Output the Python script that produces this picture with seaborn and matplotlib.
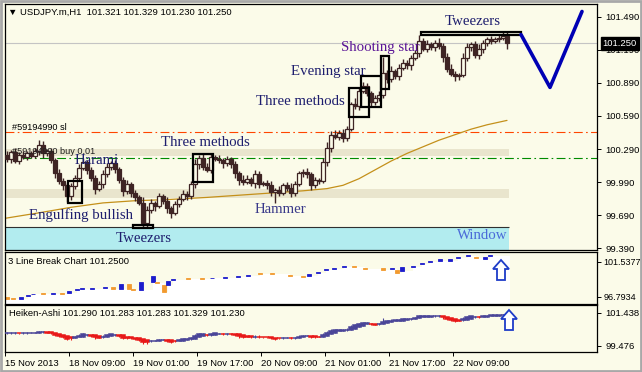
import matplotlib
matplotlib.use("Agg")
import matplotlib.pyplot as plt
import seaborn as sns
import numpy as np
from matplotlib.patches import Rectangle, Polygon

sns.set_theme(style="white")
plt.rcParams['font.family'] = ['Liberation Sans', 'DejaVu Sans']

W, H = 642, 372
BG = '#fbfbe9'
CANDLE = '#3e2424'
SERIF = ['Liberation Serif', 'DejaVu Serif']

# ---- H1 candles (USDJPY), opens follow the previous close ----
closes = [100.20, 100.26, 100.18, 100.24, 100.22, 100.25, 100.23, 100.27, 100.33, 100.25,
          100.27, 100.19, 100.07, 100.00, 99.96, 99.86, 99.95, 100.03, 100.12, 100.17,
          100.10, 100.03, 99.93, 99.97, 100.06, 100.13, 100.16, 100.11, 100.01, 99.91,
          99.97, 99.89, 99.85, 99.80, 99.62, 99.74, 99.80, 99.77, 99.86, 99.82,
          99.75, 99.71, 99.79, 99.84, 99.88, 99.86, 99.97, 100.15, 100.21, 100.13,
          100.10, 100.22, 100.20, 100.19, 100.16, 100.20, 100.15, 100.07, 100.01, 99.99,
          100.02, 99.98, 100.06, 99.97, 99.98, 99.96, 99.90, 99.92, 99.89, 99.96,
          99.94, 99.89, 99.97, 100.07, 100.08, 100.06, 99.96, 100.01, 100.00, 100.17,
          100.30, 100.42, 100.40, 100.44, 100.39, 100.47, 100.70, 100.68, 100.82, 100.86,
          100.80, 100.72, 100.75, 100.78, 100.98, 100.93, 101.00, 100.95, 101.03, 101.07,
          101.05, 101.12, 101.16, 101.27, 101.20, 101.24, 101.22, 101.25, 101.23, 101.13,
          101.02, 100.97, 100.95, 100.96, 101.12, 101.22, 101.24, 101.14, 101.20, 101.25,
          101.29, 101.27, 101.29, 101.30, 101.32, 101.25]
first_open = 100.24
# wick lengths in pips above / below the body
up_pips = [3, 2, 4, 2, 3, 2, 2, 3, 4, 3, 2, 3, 2, 4, 3, 2, 3, 2, 3, 4, 2, 3, 2, 3, 4, 3, 2, 3, 2, 3,
           4, 2, 3, 2, 5, 3, 4, 2, 3, 2, 3, 2, 3, 2, 4, 3, 3, 5, 3, 4, 3, 3, 2, 4, 2, 3, 2, 3, 2, 4,
           3, 2, 4, 3, 2, 3, 4, 2, 3, 2, 3, 4, 3, 2, 3, 4, 2, 3, 2, 4, 5, 3, 4, 2, 3, 3, 2, 5, 3, 4,
           3, 2, 3, 4, 15, 3, 4, 2, 3, 4, 3, 2, 3, 6, 3, 4, 2, 3, 5, 2, 3, 4, 3, 2, 4, 3, 2, 3, 4, 3,
           2, 3, 2, 3, 4, 3]
lo_pips = [3, 4, 2, 3, 2, 3, 2, 2, 3, 4, 2, 3, 4, 3, 4, 5, 3, 2, 3, 2, 4, 3, 5, 2, 3, 2, 3, 4, 3, 5,
           3, 4, 3, 2, 4, 4, 3, 4, 2, 3, 4, 5, 2, 3, 2, 3, 2, 3, 4, 3, 2, 3, 2, 3, 4, 2, 3, 4, 5, 3,
           2, 3, 4, 3, 2, 3, 4, 10, 3, 2, 3, 4, 3, 2, 3, 3, 4, 2, 3, 2, 3, 4, 2, 3, 4, 3, 2, 3, 4, 2,
           3, 4, 3, 2, 3, 4, 3, 2, 3, 2, 3, 4, 2, 3, 2, 3, 3, 4, 3, 5, 3, 2, 4, 3, 2, 3, 4, 2, 3, 4,
           2, 3, 2, 3, 2, 5]

# moving average (brown line)
ma_x = [-0.5, 8, 16, 24, 32, 40, 50, 58, 66, 74, 80, 84, 88, 92, 96, 100, 104, 108, 112, 116, 120, 125]
ma_y = [99.66, 99.71, 99.76, 99.80, 99.82, 99.83, 99.85, 99.87, 99.89, 99.91, 99.93, 99.96,
        100.02, 100.10, 100.18, 100.25, 100.31, 100.37, 100.42, 100.47, 100.51, 100.55]

sl_level = 100.445
buy_level = 100.21
bid = 101.25
bands = [(100.225, 100.29), (99.845, 99.93)]
window_top = 99.58

# pattern boxes: (bar from, bar to, price low, price high)
boxes = [(15.25, 18.75, 99.80, 100.00), (31.5, 36.5, 99.57, 99.60), (46.5, 51.5, 99.99, 100.245),
         (85.5, 90.5, 100.58, 100.845), (88.5, 93.5, 100.672, 100.954), (93.5, 95.5, 100.835, 101.135),
         (103.5, 128.5, 101.326, 101.354)]
labels = ["Engulfing bullish", "Tweezers", "Harami", "Three methods", "Hammer",
          "Three methods", "Evening star", "Shooting star", "Tweezers", "Window"]
label_x = [5.5, 27.25, 17.0, 38.5, 62.0, 62.25, 71.0, 83.5, 109.5, 125.0]
label_y = [99.69, 99.48, 100.19, 100.345, 99.74, 100.726, 100.99, 101.21, 101.45, 99.50]
label_col = ['#1e1e6e', '#1e1e6e', '#1e1e6e', '#1e1e6e', '#3a3a8a',
             '#1e1e6e', '#1e1e6e', '#5a1496', '#1e1e6e', '#4a6ad8']

# forecast drawing
v_x = [128.5, 135.75, 143.75]
v_y = [101.33, 100.85, 101.54]

# 3 Line Break bricks
lb_x = [0, 1.5, 3.5, 5.25, 6.5, 9, 11.5, 13.75, 15.5, 17.5, 18.75, 21.25, 24.5, 26.5, 28.5, 30.5,
        31.5, 33.5, 36.5, 37.5, 39.25, 40.25, 41.5, 45.25, 48.75, 51.25, 54.5, 57.75, 60.25, 63.25,
        66.25, 70.75, 74, 75.5, 77.75, 79.75, 81.75, 84.25, 86.75, 89.5, 94, 96.25, 97.5, 98.75,
        101.5, 103.75, 105.75, 108.25, 110.75, 112.75, 115.25, 117.25, 119.5, 120.75]
lb_lo = [96.55, 96.48, 96.48, 96.95, 97.16, 97.16, 97.23, 97.16, 97.30, 97.71, 97.84, 97.91, 97.98,
         97.84, 97.91, 97.91, 97.71, 97.71, 98.87, 98.67, 97.43, 98.46, 99.14, 99.21, 99.21, 99.35,
         99.42, 99.55, 99.69, 99.96, 99.90, 99.69, 99.49, 99.62, 100.10, 100.44, 100.65, 100.92,
         100.92, 100.65, 100.44, 100.65, 100.03, 100.31, 100.92, 101.26, 101.47, 101.74, 101.74,
         102.02, 102.29, 102.02, 101.95, 102.29]
lb_hi = [96.75, 96.61, 96.75, 97.09, 97.23, 97.30, 97.37, 97.30, 97.57, 97.84, 97.98, 98.05, 98.12,
         98.12, 98.53, 98.53, 97.91, 98.87, 99.62, 98.87, 98.39, 98.94, 99.28, 99.35, 99.35, 99.42,
         99.49, 99.69, 99.83, 100.10, 100.03, 99.83, 99.62, 99.96, 100.24, 100.58, 100.79, 101.06,
         101.06, 100.79, 100.72, 100.79, 100.44, 100.85, 101.06, 101.40, 101.67, 101.88, 101.88,
         102.22, 102.43, 102.22, 102.15, 102.43]
lb_up = [0, 0, 1, 1, 1, 0, 1, 0, 1, 1, 1, 1, 1, 0, 1, 0, 0, 1, 1, 0, 0, 1, 1, 0, 0, 1, 1, 1, 1, 0,
         0, 0, 0, 1, 1, 1, 1, 1, 0, 0, 0, 1, 0, 1, 1, 1, 1, 1, 1, 1, 1, 0, 1, 1]

tick_idx = [0, 16, 32, 48, 64, 80, 96, 112]
tick_lab = ["15 Nov 2013", "18 Nov 09:00", "19 Nov 01:00", "19 Nov 17:00",
            "20 Nov 09:00", "21 Nov 01:00", "21 Nov 17:00", "22 Nov 09:00"]

# ---------------- build OHLC ----------------
c = np.array(closes)
o = np.array([first_open] + closes[:-1])
h = np.maximum(o, c) + np.array(up_pips) / 100
l = np.minimum(o, c) - np.array(lo_pips) / 100
x = np.arange(len(c))

# Heiken-Ashi from the candles
ha_c = (o + h + l + c) / 4
ha_o = np.zeros_like(ha_c)
ha_o[0] = (o[0] + c[0]) / 2
for i in range(1, len(c)):
    ha_o[i] = (ha_o[i - 1] + ha_c[i - 1]) / 2
ha_h = np.maximum(h, np.maximum(ha_o, ha_c))
ha_l = np.minimum(l, np.minimum(ha_o, ha_c))


def fx(px):
    return px / W


def fy(py):
    return 1 - py / H


fig = plt.figure(figsize=(W / 100, H / 100), dpi=100, facecolor=BG)


def panel(top, bottom, pad=3):
    a = fig.add_axes([fx(5), fy(bottom), 592 / W, (bottom - top) / H])
    a.set_facecolor(BG)
    a.set_xlim(-0.5, 147.5)
    for s in a.spines.values():
        s.set_color('black')
        s.set_linewidth(0.9)
    a.yaxis.tick_right()
    a.tick_params(axis='y', direction='out', length=3, width=0.7, pad=pad,
                  labelsize=6.8, colors='black', right=True, left=False)
    a.set_xticks([])
    return a


ax = panel(4, 250)
ax.set_ylim(99.372, 101.608)

# zones
for lo_b, hi_b in bands:
    ax.add_patch(Rectangle((-0.5, lo_b), 126, hi_b - lo_b, facecolor='#e9e5cd', edgecolor='none', zorder=0.5))
ax.add_patch(Rectangle((-0.5, 99.2), 126, window_top - 99.2, facecolor='#b2ecef', edgecolor='none', zorder=0.5))
ax.hlines(window_top, -0.5, 125.5, color='#303030', lw=0.8, zorder=0.6)

# order levels and bid
ax.axhline(sl_level, color='#ff4500', lw=0.8, dashes=(8, 3, 1.5, 3), zorder=2)
ax.axhline(buy_level, color='#008c00', lw=0.8, dashes=(8, 3, 1.5, 3), zorder=2)
ax.axhline(bid, color='#c4c4c4', lw=0.8, zorder=1)

sns.lineplot(x=ma_x, y=ma_y, ax=ax, color='#c4901a', lw=0.9, zorder=2)

# candles
ax.vlines(x, l, h, color=CANDLE, lw=1.0, zorder=3)
bull = c >= o
body = np.maximum(np.abs(c - o), 0.004)
ax.bar(x[bull], body[bull], bottom=np.minimum(o, c)[bull], width=0.8,
       facecolor=BG, edgecolor=CANDLE, lw=0.9, zorder=3.5)
ax.bar(x[~bull], body[~bull], bottom=np.minimum(o, c)[~bull], width=0.8,
       facecolor=CANDLE, edgecolor=CANDLE, lw=0.9, zorder=3.5)

for b0, b1, p0, p1 in boxes:
    ax.add_patch(Rectangle((b0, p0), b1 - b0, p1 - p0, fill=False, edgecolor='black', lw=1.6, zorder=4))

sns.lineplot(x=v_x, y=v_y, ax=ax, color='#0000b4', lw=2.6, sort=False, zorder=4)

for t, tx, ty, col in zip(labels, label_x, label_y, label_col):
    ax.text(tx, ty, t, family=SERIF, fontsize=10.7, color=col,
            ha='right' if t == "Window" else 'left', va='center', zorder=5)

ax.text(1.2, sl_level + 0.045, "#59194990 sl", fontsize=6.6, color='black', va='center', zorder=5)
ax.text(1.2, buy_level + 0.055, "#59194990 buy 0.01", fontsize=6.6, color='#202020', va='center', zorder=5)

main_ticks = [99.39, 99.69, 99.99, 100.29, 100.59, 100.89, 101.19, 101.49]
ax.set_yticks(main_ticks)
ax.set_yticklabels([f"{v:.3f}" for v in main_ticks])
ax.annotate(f"{bid:.3f}", xy=(1, bid), xycoords=('axes fraction', 'data'), xytext=(4, 0),
            textcoords='offset points', ha='left', va='center', fontsize=6.8, color='white',
            bbox=dict(boxstyle='square,pad=0.2', fc='black', ec='black'), zorder=10,
            annotation_clip=False)

# ---- 3 Line Break panel ----
ax1 = panel(252, 304, pad=1.5)
ax1.set_ylim(95.844, 102.893)
fill_x = [-0.5] + lb_x[1:] + [125.75]
fill_y = [lb_lo[0]] + lb_lo[1:] + [lb_lo[-1]]
ax1.fill_between(fill_x, fill_y, 95.0, step='post', color='white', lw=0, zorder=1)
lb_col = ['#1c1ccc' if u else '#f29a2e' for u in lb_up]
ax1.bar(lb_x, np.array(lb_hi) - np.array(lb_lo), bottom=lb_lo, width=0.85,
        color=lb_col, edgecolor=lb_col, lw=0.6, zorder=2)
ax1.set_yticks([96.7934, 101.5377])
ax1.set_yticklabels(["96.7934", "101.5377"], fontsize=6.5)

# ---- Heiken-Ashi panel ----
ax2 = panel(305, 352)
ax2.set_ylim(99.101, 101.896)
ha_up = ha_c >= ha_o
ha_col = np.where(ha_up, '#4a4598', '#e81818')
ax2.vlines(x, ha_l, ha_h, color=ha_col, lw=0.8, zorder=2)
ax2.bar(x, np.abs(ha_c - ha_o), bottom=np.minimum(ha_o, ha_c), width=0.8,
        color=ha_col, edgecolor=ha_col, lw=1.1, zorder=3)
ax2.set_yticks([99.476, 101.438])
ax2.set_yticklabels(["99.476", "101.438"])
ax2.set_xticks([t - 0.5 for t in tick_idx])
ax2.set_xticklabels(tick_lab, ha='left', fontsize=6.8)
ax2.tick_params(axis='x', direction='out', length=3, width=0.7, pad=2, colors='black', bottom=True)


def up_arrow(cx, top):
    pts = [(cx, top), (cx + 8, top + 9), (cx + 4, top + 9), (cx + 4, top + 20),
           (cx - 4, top + 20), (cx - 4, top + 9), (cx - 8, top + 9)]
    fig.patches.append(Polygon([(fx(a), fy(b)) for a, b in pts], closed=True, transform=fig.transFigure,
                               facecolor='white', edgecolor='#1e3cc8', lw=1.3, zorder=10))


up_arrow(501, 260)
up_arrow(509, 310)

# header texts
fig.text(fx(8), fy(12), "\u25bc USDJPY.m,H1  101.321 101.329 101.230 101.250", fontsize=6.8,
         va='center', ha='left', color='black')
fig.text(fx(8), fy(261), "3 Line Break Chart 101.2500", fontsize=6.8, va='center', color='black')
fig.text(fx(9), fy(314), "Heiken-Ashi 101.290 101.283 101.283 101.329 101.230", fontsize=6.8,
         va='center', color='black')

# window frame
fig.patches.append(Rectangle((0.001, 0.002), 0.997, 0.996, transform=fig.transFigure, fill=False,
                             edgecolor='#a8a8a8', lw=2.0, zorder=0))

fig.savefig("out.png", dpi=100, facecolor=BG)
